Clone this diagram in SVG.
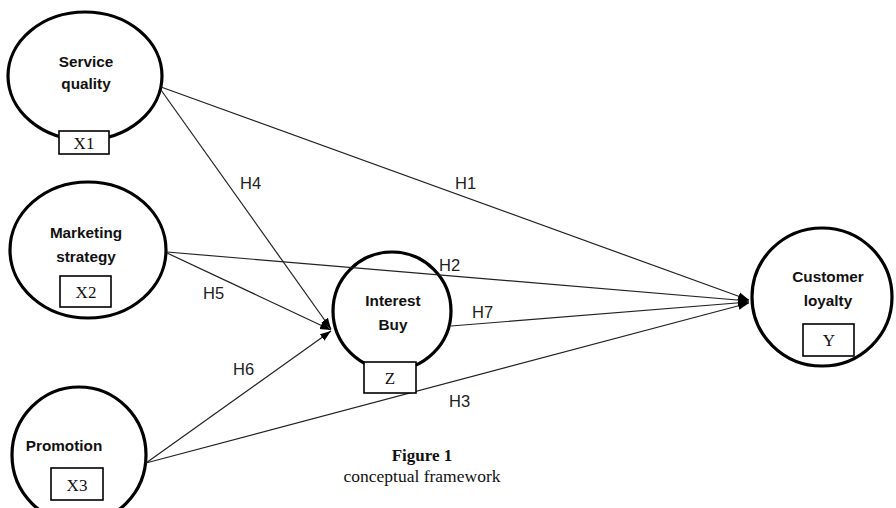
<svg xmlns="http://www.w3.org/2000/svg" width="896" height="508" viewBox="0 0 896 508">
<style>
.node ellipse{fill:#fff;stroke:#000;stroke-width:3.2}
.node rect{fill:#fff;stroke:#000;stroke-width:1.6}
.lbl{font-family:"Liberation Sans",Arial,sans-serif;font-weight:bold;font-size:15.3px;fill:#111;text-anchor:middle}
.var{font-family:"Liberation Serif","Times New Roman",serif;font-size:17px;fill:#111;text-anchor:middle}
.conn line{stroke:#222;stroke-width:1.2;fill:none;marker-end:url(#arr)}
.h{font-family:"Liberation Sans",Arial,sans-serif;font-size:16.5px;fill:#222}
.cap{font-family:"Liberation Serif","Times New Roman",serif;fill:#111;text-anchor:middle}
</style>
<defs>
<marker id="arr" markerUnits="userSpaceOnUse" markerWidth="12" markerHeight="10" refX="11" refY="5" orient="auto">
<path d="M0,1 L11,5 L0,9 Z" fill="#000"/>
</marker>
</defs>
<rect width="896" height="508" fill="#fff"/>
<g id="service_quality" class="node">
<ellipse cx="85" cy="76" rx="77" ry="64"/>
<text class="lbl" x="86" y="67">Service</text>
<text class="lbl" x="86" y="89">quality</text>
<rect x="59" y="131" width="50" height="23"/>
<text class="var" x="84" y="149">X1</text>
</g>
<g id="marketing_strategy" class="node">
<ellipse cx="88" cy="250" rx="78" ry="68"/>
<text class="lbl" x="86" y="238">Marketing</text>
<text class="lbl" x="86" y="262">strategy</text>
<rect x="60" y="276" width="51" height="31"/>
<text class="var" x="86" y="298">X2</text>
</g>
<g id="promotion" class="node">
<ellipse cx="79" cy="455" rx="67" ry="68"/>
<text class="lbl" x="64" y="451">Promotion</text>
<rect x="51" y="468" width="52" height="32"/>
<text class="var" x="77" y="491">X3</text>
</g>
<g id="interest_buy" class="node">
<ellipse cx="392" cy="311" rx="59" ry="59" style="fill:none"/>
<text class="lbl" x="393" y="306">Interest</text>
<text class="lbl" x="393" y="330">Buy</text>
</g>
<g id="customer_loyalty" class="node">
<ellipse cx="822" cy="297" rx="70" ry="69"/>
<text class="lbl" x="828" y="282">Customer</text>
<text class="lbl" x="828" y="306">loyalty</text>
<rect x="803" y="324" width="51" height="32"/>
<text class="var" x="829" y="346">Y</text>
</g>
<g id="connectors" class="conn">
<line x1="161" y1="87" x2="749" y2="300"/>
<line x1="161" y1="90" x2="331" y2="329"/>
<line x1="167" y1="252" x2="749" y2="301"/>
<line x1="167" y1="253" x2="331" y2="330"/>
<line x1="146" y1="463" x2="331" y2="331"/>
<line x1="146" y1="463" x2="749" y2="303"/>
<line x1="451" y1="326" x2="749" y2="302"/>
</g>
<g id="interest_box" class="node">
<rect x="364" y="362" width="52" height="31"/>
<text class="var" x="390" y="384">Z</text>
</g>
<g id="hlabels">
<text class="h" x="240" y="189">H4</text>
<text class="h" x="455" y="189">H1</text>
<text class="h" x="439" y="271">H2</text>
<text class="h" x="203" y="299">H5</text>
<text class="h" x="472" y="318">H7</text>
<text class="h" x="233" y="375">H6</text>
<text class="h" x="449" y="407">H3</text>
</g>
<g id="caption">
<text class="cap" x="422" y="461" font-weight="bold" font-size="17px">Figure 1</text>
<text class="cap" x="422" y="482" font-size="17.5px">conceptual framework</text>
</g>
</svg>
